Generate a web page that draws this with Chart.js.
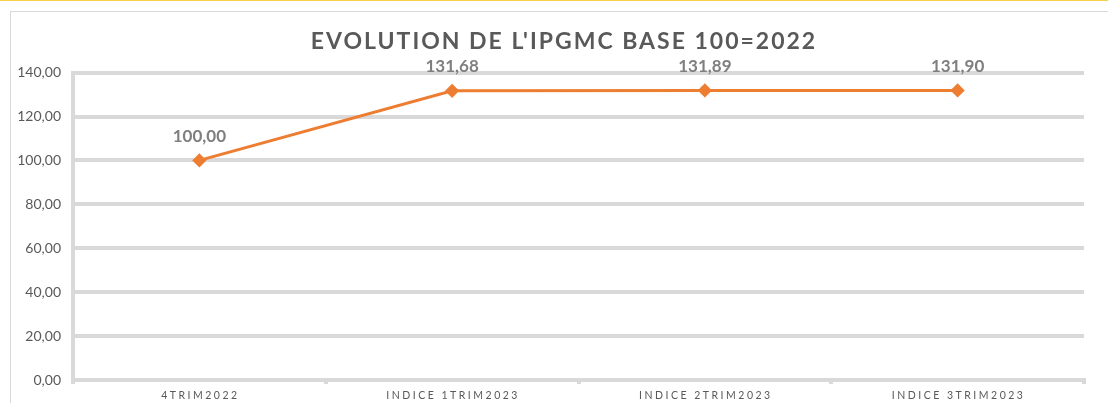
<!DOCTYPE html>
<html>
<head>
<meta charset="utf-8">
<script src="https://cdn.jsdelivr.net/npm/chart.js@4"></script>
<style>
  html, body { margin: 0; padding: 0; background: #fff; }
  body { width: 1108px; height: 403px; position: relative; overflow: hidden; border-top: 1px solid #f5d04a; box-sizing: border-box; }
  #frame { position: absolute; left: 10px; top: 10px; width: 1200px; height: 500px; border: 1px solid #d9d9d9; }
  #chart { position: absolute; left: 0; top: -1px; }
</style>
</head>
<body>
<div id="frame"></div>
<canvas id="chart" width="1108" height="403"></canvas>
<script>
// Chart data
const categories = ["4TRIM2022", "INDICE 1TRIM2023", "INDICE 2TRIM2023", "INDICE 3TRIM2023"];
const ipgmcValues = [100.00, 131.68, 131.89, 131.90];
const yTicks = [0, 20, 40, 60, 80, 100, 120, 140];

const fmt = v => v.toFixed(2).replace(".", ",");
const FONT = "Lato, 'Open Sans', sans-serif";

// spaced letters for title and x labels (like the Excel original)
const letterSpacingPatch = {
    id: "letterSpacingPatch",
    beforeDraw(chart) {
        if (chart._spacingDone) return;
        chart._spacingDone = true;
        const wrap = (obj, name, spacing, dx) => {
            const orig = obj[name];
            obj[name] = function () {
                const c = this.ctx;
                c.save();
                c.letterSpacing = spacing;
                c.translate(dx, 0);
                orig.apply(this, arguments);
                c.restore();
            };
        };
        if (chart.titleBlock) wrap(chart.titleBlock, "draw", "2px", 22);
        wrap(chart.scales.x, "drawLabels", "2.5px", 1);
    }
};

// value labels above the points
const valueLabels = {
    id: "valueLabels",
    afterDatasetsDraw(chart) {
        const ctx = chart.ctx;
        const meta = chart.getDatasetMeta(0);
        ctx.save();
        ctx.font = "bold 17px " + FONT;
        ctx.fillStyle = "#7f7f7f";
        ctx.textAlign = "center";
        ctx.textBaseline = "middle";
        meta.data.forEach((pt, i) => {
            ctx.fillText(fmt(ipgmcValues[i]), pt.x, pt.y - 24);
        });
        ctx.restore();
    }
};

new Chart(document.getElementById("chart"), {
    type: "line",
    data: {
        labels: categories,
        datasets: [{
            data: ipgmcValues,
            borderColor: "#ed7d31",
            backgroundColor: "#ed7d31",
            borderWidth: 3,
            pointStyle: "rectRot",
            pointRadius: 5,
            pointHoverRadius: 5,
            tension: 0,
        }]
    },
    options: {
        responsive: false,
        animation: false,
        events: [],
        layout: { padding: { left: 0, right: 24, top: 0, bottom: 0 } },
        plugins: {
            legend: { display: false },
            tooltip: { enabled: false },
            title: {
                display: true,
                text: "EVOLUTION DE L'IPGMC BASE 100=2022",
                color: "#595959",
                font: { family: FONT, size: 23, weight: "bold", lineHeight: 1.2 },
                padding: { top: 28, bottom: 17 },
            },
        },
        scales: {
            x: {
                offset: true,
                grid: {
                    offset: true,
                    drawOnChartArea: false,
                    drawTicks: true,
                    tickLength: 4,
                    color: "#d9d9d9",
                    lineWidth: 4,
                },
                border: { display: true, color: "#d9d9d9", width: 4 },
                ticks: {
                    color: "#595959",
                    font: { family: FONT, size: 10.5 },
                    padding: 5,
                    maxRotation: 0,
                    autoSkip: false,
                },
                afterFit(scale) { scale.height = 23; },
            },
            y: {
                min: 0,
                max: 140,
                afterBuildTicks(scale) { scale.ticks = yTicks.map(v => ({ value: v })); },
                grid: { color: "#d9d9d9", lineWidth: 4, drawTicks: false },
                border: { display: true, color: "#d9d9d9", width: 4 },
                ticks: {
                    color: "#595959",
                    font: { family: FONT, size: 14 },
                    padding: 12,
                    callback: v => fmt(v),
                },
                afterFit(scale) { scale.width = 73; },
            }
        }
    },
    plugins: [letterSpacingPatch, valueLabels]
});
</script>
</body>
</html>
